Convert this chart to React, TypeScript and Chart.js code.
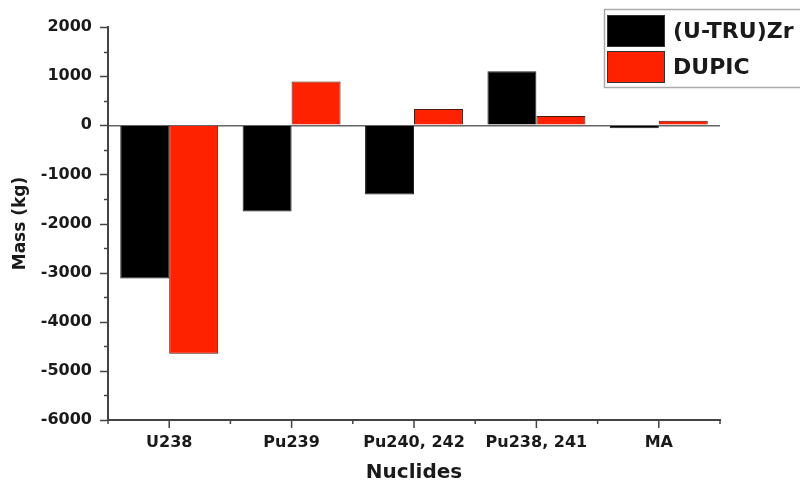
import React, { useEffect, useRef } from "react";
import { Chart, registerables } from "chart.js";

Chart.register(...registerables);

const categories = ["U238", "Pu239", "Pu240, 242", "Pu238, 241", "MA"];
const seriesNames = ["(U-TRU)Zr", "DUPIC"];
const utruZr = [-3120, -1755, -1410, 1100, -60];
const dupic = [-4650, 890, 330, 190, 90];
const yMin = -6000;
const yMax = 2000;
const yMajorStep = 1000;
const yMinorStep = 500;

const FONT = "'DejaVu Sans', sans-serif";
const TEXT = "#1a1a1a";
const AXIS = "#444";

const tickPlugin = {
  id: "customTicks",
  afterDraw(chart: any) {
    const ctx = chart.ctx;
    const x = chart.scales.x;
    const y = chart.scales.y;
    const area = chart.chartArea;
    ctx.save();
    ctx.strokeStyle = AXIS;
    ctx.lineWidth = 1.5;
    for (let v = yMin; v <= yMax; v += yMinorStep) {
      const py = Math.round(y.getPixelForValue(v)) + 0.5;
      const len = v % yMajorStep === 0 ? 8 : 4;
      ctx.beginPath();
      ctx.moveTo(area.left - len, py);
      ctx.lineTo(area.left, py);
      ctx.stroke();
    }
    const n = categories.length;
    const w = (area.right - area.left) / n;
    for (let i = 0; i < n; i++) {
      const px = x.getPixelForValue(i);
      ctx.beginPath();
      ctx.moveTo(px, area.bottom);
      ctx.lineTo(px, area.bottom + 8);
      ctx.stroke();
    }
    for (let i = 0; i <= n; i++) {
      const px = x.getPixelForValue(0) - w / 2 + i * w;
      ctx.beginPath();
      ctx.moveTo(px, area.bottom);
      ctx.lineTo(px, area.bottom + 4);
      ctx.stroke();
    }
    ctx.restore();
  },
};

const legendPlugin = {
  id: "boxLegend",
  afterDraw(chart: any) {
    const ctx = chart.ctx;
    const ds = chart.data.datasets;
    const boxX = 604;
    const boxY = 9;
    const boxW = 210;
    const rowH = 36;
    const boxH = 78;
    ctx.save();
    ctx.fillStyle = "#fff";
    ctx.fillRect(boxX, boxY, boxW, boxH);
    ctx.strokeStyle = "#aaa";
    ctx.lineWidth = 1.5;
    ctx.strokeRect(boxX + 0.5, boxY + 0.5, boxW, boxH);
    ds.forEach((d: any, i: number) => {
      const sy = boxY + 6 + i * rowH;
      ctx.fillStyle = d.backgroundColor;
      ctx.fillRect(boxX + 3, sy, 58, 32);
      ctx.strokeStyle = "#333";
      ctx.lineWidth = 1;
      ctx.strokeRect(boxX + 3.5, sy + 0.5, 57, 31);
      ctx.fillStyle = TEXT;
      ctx.font = `bold 22px ${FONT}`;
      ctx.textBaseline = "middle";
      ctx.textAlign = "left";
      ctx.fillText(d.label, boxX + 69, sy + 17);
    });
    ctx.restore();
  },
};

export default function App() {
  const ref = useRef<HTMLCanvasElement | null>(null);
  useEffect(() => {
    if (!ref.current) return;
    const chart = new Chart(ref.current, {
      type: "bar",
      data: {
        labels: categories,
        datasets: [
          {
            label: seriesNames[0],
            data: utruZr,
            backgroundColor: "#000000",
            borderColor: "#222",
            borderWidth: 1,
          },
          {
            label: seriesNames[1],
            data: dupic,
            backgroundColor: "#ff2200",
            borderColor: "#4a1a10",
            borderWidth: 1,
          },
        ],
      },
      options: {
        responsive: false,
        animation: false,
        layout: { padding: { left: 0, right: 80, top: 27, bottom: 0 } },
        plugins: {
          legend: { display: false },
          tooltip: { enabled: false },
        },
        datasets: {
          bar: { barPercentage: 1, categoryPercentage: 0.8 },
        },
        scales: {
          x: {
            grid: {
              display: true,
              drawOnChartArea: false,
              drawTicks: true,
              tickLength: 8,
              tickColor: "rgba(0,0,0,0)",
            },
            border: { display: true, color: AXIS, width: 2 },
            ticks: {
              padding: 5,
              color: TEXT,
              font: { family: FONT, size: 16, weight: "bold" },
              maxRotation: 0,
              autoSkip: false,
            },
            title: {
              display: true,
              text: "Nuclides",
              color: TEXT,
              font: { family: FONT, size: 20, weight: "bold", lineHeight: 0.8 },
              padding: { top: 0, bottom: 0 },
            },
            afterFit(scale: any) {
              scale.height = 61;
            },
          },
          y: {
            min: yMin,
            max: yMax,
            grid: {
              display: true,
              drawTicks: true,
              tickLength: 8,
              tickColor: "rgba(0,0,0,0)",
              color: (c: any) =>
                c.tick && c.tick.value === 0 ? "#666" : "rgba(0,0,0,0)",
              lineWidth: 1.5,
            },
            border: { display: true, color: AXIS, width: 2 },
            ticks: {
              stepSize: yMinorStep,
              padding: 8,
              color: TEXT,
              font: { family: FONT, size: 16, weight: "bold" },
              callback: (v: any) => (Number(v) % yMajorStep === 0 ? String(v) : ""),
            },
            title: {
              display: true,
              text: "Mass (kg)",
              color: TEXT,
              font: { family: FONT, size: 17, weight: "bold" },
              padding: { top: 10, bottom: 0 },
            },
            afterFit(scale: any) {
              scale.width = 108;
            },
          },
        },
      },
      plugins: [tickPlugin, legendPlugin],
    });
    return () => chart.destroy();
  }, []);
  return (
    <div style={{ position: "absolute", left: 0, top: 0, width: 800, height: 481, background: "#fff" }}>
      <canvas ref={ref} width={800} height={481} style={{ display: "block" }} />
    </div>
  );
}
